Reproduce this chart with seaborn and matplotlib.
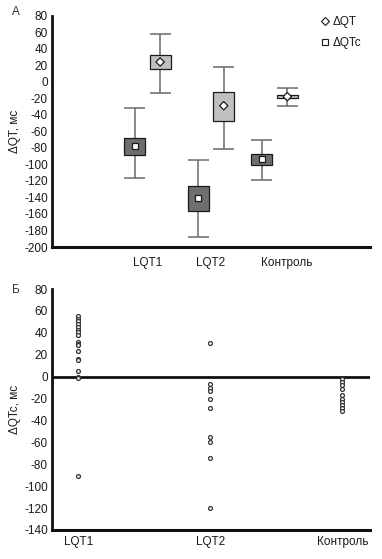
import numpy as np
import pandas as pd
import matplotlib
matplotlib.use("Agg")
import matplotlib.pyplot as plt
from matplotlib.lines import Line2D
from matplotlib.transforms import ScaledTranslation
import seaborn as sns

# ---------------- data ----------------
groups = ["LQT1", "LQT2", "Контроль"]

# Panel A: box (inner range) + whiskers + central value
qtc_whisker_low = [-117, -188, -119]
qtc_box_low = [-89, -157, -101]
qtc_center = [-78, -141, -94]
qtc_box_high = [-68, -126, -88]
qtc_whisker_high = [-32, -95, -70]

qt_whisker_low = [-14, -81, -29]
qt_box_low = [15, -48, -20]
qt_center = [24, -29, -18]
qt_box_high = [33, -12, -16]
qt_whisker_high = [58, 18, -8]

panel_a_ticks = [0, 1, 2, 3, 4]
panel_a_ticklabels = ["", "LQT1", "LQT2", "Контроль", ""]
panel_a_yticks = [80, 60, 40, 20, 0, -20, -40, -60, -80, -100, -120, -140, -160, -180, -200]

# Panel B: individual ΔQTc values
lqt1_values = [55, 53, 51, 48, 45, 43, 41, 38, 32, 30, 29, 23, 16, 15, 5, 0, -1, -91]
lqt2_values = [31, -7, -10, -13, -20, -29, -55, -60, -74, -120]
control_values = [-2, -5, -8, -11, -17, -20, -23, -26, -29, -31]
panel_b_yticks = [80, 60, 40, 20, 0, -20, -40, -60, -80, -100, -120, -140]

# ---------------- style ----------------
sns.set_style("white")
plt.rcParams["font.family"] = ["Liberation Sans", "DejaVu Sans"]
plt.rcParams["font.size"] = 8.5

W, H = 382, 559
fig = plt.figure(figsize=(W / 100, H / 100), dpi=100)

ax1 = fig.add_axes([52 / W, 1 - 247 / H, 318 / W, (247 - 15.7) / H])
ax2 = fig.add_axes([52 / W, 1 - 530 / H, 318 / W, (530 - 289) / H])

dark = "#6e6e6e"
light = "#c0c0c0"
wcol = "#6a6a6a"
txt = "#1a1a1a"
box_w = 0.33
off = 0.2

centers = np.array([1, 2, 3])
series = [
    (centers - off, qtc_whisker_low, qtc_box_low, qtc_center, qtc_box_high, qtc_whisker_high, dark, "s"),
    (centers + off, qt_whisker_low, qt_box_low, qt_center, qt_box_high, qt_whisker_high, light, "D"),
]
rows = []
for xs, wl, bl, c, bh, wh, col, mk in series:
    wl, bl, c, bh, wh = map(np.array, (wl, bl, c, bh, wh))
    ax1.vlines(xs, wl, bl, color=wcol, lw=1.1, zorder=1)
    ax1.vlines(xs, bh, wh, color=wcol, lw=1.1, zorder=1)
    ax1.hlines(wl, xs - box_w / 2, xs + box_w / 2, color=wcol, lw=1.1, zorder=1)
    ax1.hlines(wh, xs - box_w / 2, xs + box_w / 2, color=wcol, lw=1.1, zorder=1)
    ax1.bar(xs, bh - bl, bottom=bl, width=box_w, color=col, edgecolor=txt,
            linewidth=0.9, zorder=2)
    for x, v in zip(xs, c):
        rows.append({"x": x, "y": v, "m": "ΔQTc" if mk == "s" else "ΔQT"})

df_a = pd.DataFrame(rows)
sns.scatterplot(data=df_a, x="x", y="y", style="m", markers={"ΔQTc": "s", "ΔQT": "D"},
                color="white", edgecolor=txt, linewidth=0.9, s=18, ax=ax1,
                legend=False, zorder=3)

ax1.set_xlim(-0.5, 4.5)
ax1.set_ylim(-200, 80)
ax1.set_xticks(panel_a_ticks)
ax1.set_xticklabels(panel_a_ticklabels)
ax1.set_yticks(panel_a_yticks)
ax1.set_yticklabels([str(t) for t in panel_a_yticks])
ax1.set_xlabel("")
ax1.set_ylabel("ΔQT, мс", fontsize=8.5, labelpad=2, color=txt)
ax1.tick_params(axis="both", direction="in", length=5, width=1, color=txt,
                labelsize=8.5, labelcolor=txt)
ax1.tick_params(axis="x", pad=7, length=7)
ax1.tick_params(axis="y", pad=3)
# the "Контроль" label sits a little right of its tick in the original
lbl = ax1.get_xticklabels()[3]
lbl.set_transform(lbl.get_transform() + ScaledTranslation(12 / 100, 0, fig.dpi_scale_trans))

handles = [
    Line2D([], [], marker="D", ls="", markerfacecolor="white", markeredgecolor=txt,
           markersize=3.8, markeredgewidth=0.8),
    Line2D([], [], marker="s", ls="", markerfacecolor="white", markeredgecolor=txt,
           markersize=3.8, markeredgewidth=0.8),
]
ax1.legend(handles, ["ΔQT", "ΔQTc"], loc="upper left", bbox_to_anchor=(0.83, 1.02),
           frameon=False, fontsize=8.5, handlelength=0.7, handletextpad=0.3,
           labelspacing=0.8, borderaxespad=0, labelcolor=txt)

# ---------------- panel B ----------------
df_b = pd.DataFrame({
    "group": ["LQT1"] * len(lqt1_values) + ["LQT2"] * len(lqt2_values) + ["Контроль"] * len(control_values),
    "value": lqt1_values + lqt2_values + control_values,
})
sns.stripplot(data=df_b, x="group", y="value", order=groups, jitter=False, color="white",
              edgecolor="#333333", linewidth=0.9, size=2.8, ax=ax2, zorder=3)
ax2.axhline(0, color="#111111", lw=2, zorder=2)
ax2.set_xlim(-0.2, 2.21)
ax2.set_ylim(-140, 80)
ax2.set_yticks(panel_b_yticks)
ax2.set_yticklabels([str(t) for t in panel_b_yticks])
ax2.set_xlabel("")
ax2.set_ylabel("ΔQTc, мс", fontsize=8.5, labelpad=2, color=txt)
ax2.tick_params(axis="both", direction="in", length=5, width=1, color=txt,
                labelsize=8.5, labelcolor=txt)
ax2.tick_params(axis="x", pad=4, length=7)
ax2.tick_params(axis="y", pad=3)

for ax in (ax1, ax2):
    sns.despine(ax=ax)
    ax.spines["left"].set_linewidth(2)
    ax.spines["bottom"].set_linewidth(2.2)
    ax.spines["left"].set_color("#111111")
    ax.spines["bottom"].set_color("#111111")
    ax.grid(False)

fig.text(12 / W, 1 - 12 / H, "А", fontsize=8.5, color="#333333", va="center", ha="left")
fig.text(12 / W, 1 - 290 / H, "Б", fontsize=8.5, color="#333333", va="center", ha="left")

fig.savefig("out.png", dpi=100)
